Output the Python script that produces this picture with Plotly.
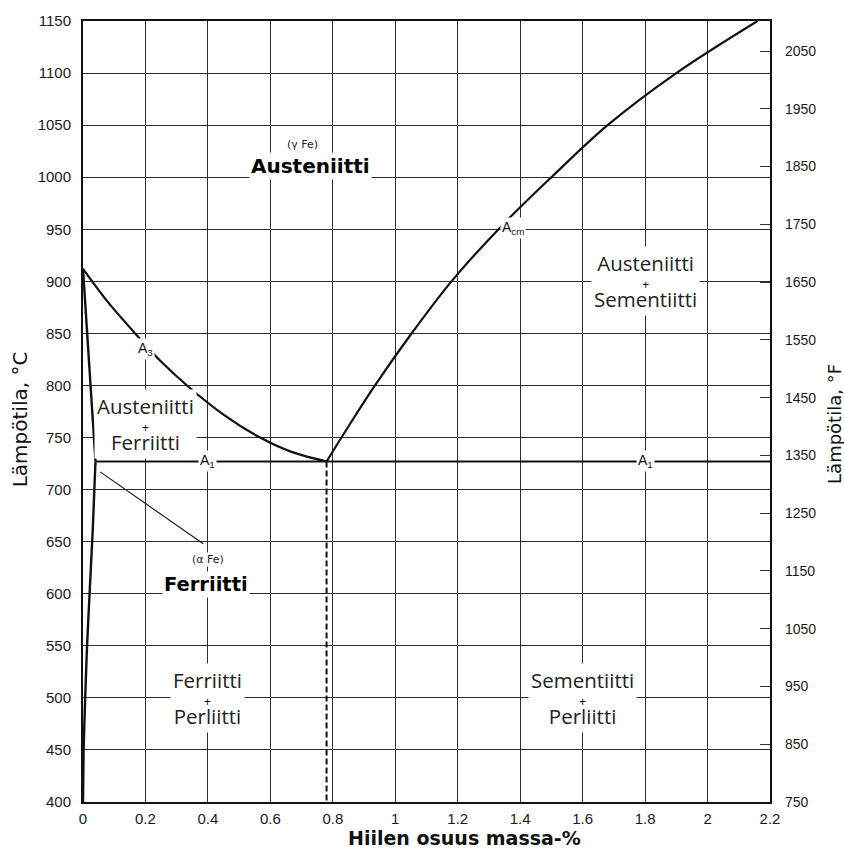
import plotly.graph_objects as go

# ---------------- data ----------------
temp_ticks_c = list(range(400, 1151, 50))
temp_ticks_f = list(range(750, 2051, 100))
carbon_ticks = [0, 0.2, 0.4, 0.6, 0.8, 1.0, 1.2, 1.4, 1.6, 1.8, 2.0, 2.2]
carbon_tick_labels = ["0", "0.2", "0.4", "0.6", "0.8", "1", "1.2", "1.4", "1.6", "1.8", "2", "2.2"]

# A3 line (austenite / ferrite+austenite)
a3_carbon = [0.0, 0.08, 0.167, 0.25, 0.333, 0.45, 0.567, 0.67, 0.78]
a3_temp = [912, 880, 850, 823, 800, 772, 750, 736, 727]

# Acm line (austenite / austenite+cementite)
acm_carbon = [0.78, 0.855, 0.935, 1.045, 1.18, 1.34, 1.5, 1.68, 1.9, 2.16]
acm_temp = [727, 763, 800, 847, 900, 953, 1000, 1050, 1100, 1150]

# ferrite boundary (upper, above A1)
fer_up_carbon = [0.0, 0.04]
fer_up_temp = [912, 727]
# ferrite solvus (below A1)
fer_lo_carbon = [0.04, 0.031, 0.021, 0.013, 0.007, 0.002, 0.0]
fer_lo_temp = [727, 660, 600, 550, 500, 450, 400]

# A1 eutectoid line
a1_carbon = [0.04, 2.2]
a1_temp = [727, 727]

# eutectoid composition (dashed)
eut_carbon = [0.78, 0.78]
eut_temp = [727, 400]

# leader line to ferrite label
lead_carbon = [0.055, 0.385]
lead_temp = [717, 648]


def c2f(c):
    return c * 9 / 5 + 32


fig = go.Figure()

black = "#111111"

fig.add_trace(go.Scatter(x=a3_carbon, y=a3_temp, mode="lines",
                         line=dict(color=black, width=2.2, shape="spline", smoothing=0.8),
                         hoverinfo="skip", showlegend=False))
fig.add_trace(go.Scatter(x=acm_carbon, y=acm_temp, mode="lines",
                         line=dict(color=black, width=2.2, shape="spline", smoothing=1.0),
                         hoverinfo="skip", showlegend=False))
fig.add_trace(go.Scatter(x=fer_up_carbon, y=fer_up_temp, mode="lines",
                         line=dict(color=black, width=2.4),
                         hoverinfo="skip", showlegend=False))
fig.add_trace(go.Scatter(x=fer_lo_carbon, y=fer_lo_temp, mode="lines",
                         line=dict(color=black, width=2.4, shape="spline", smoothing=0.6),
                         hoverinfo="skip", showlegend=False))
fig.add_trace(go.Scatter(x=a1_carbon, y=a1_temp, mode="lines",
                         line=dict(color=black, width=2.0),
                         hoverinfo="skip", showlegend=False))
fig.add_trace(go.Scatter(x=eut_carbon, y=eut_temp, mode="lines",
                         line=dict(color=black, width=2.0, dash="6px,3px"),
                         hoverinfo="skip", showlegend=False))
fig.add_trace(go.Scatter(x=lead_carbon, y=lead_temp, mode="lines",
                         line=dict(color=black, width=1.1),
                         hoverinfo="skip", showlegend=False))
# invisible trace on the Fahrenheit axis
fig.add_trace(go.Scatter(x=[0, 0], y=[c2f(400), c2f(1150)], yaxis="y2", mode="lines",
                         line=dict(color="rgba(0,0,0,0)", width=0),
                         hoverinfo="skip", showlegend=False))

tick_font = dict(family="Liberation Sans, Arial, sans-serif", size=15, color="#1a1a1a")
grid_col = "#2e2e2e"

fig.update_layout(
    width=844, height=850,
    margin=dict(l=83, r=74, t=17, b=48),
    paper_bgcolor="white", plot_bgcolor="white",
    showlegend=False,
    xaxis=dict(range=[0, 2.2], tickvals=carbon_ticks, ticktext=carbon_tick_labels,
               showgrid=True, gridcolor=grid_col, gridwidth=1.3,
               zeroline=False, showline=True, linecolor=black, linewidth=2, mirror=True,
               ticks="", tickfont=tick_font, ticklabelstandoff=2),
    yaxis=dict(range=[400, 1150], tickvals=temp_ticks_c,
               showgrid=True, gridcolor=grid_col, gridwidth=1.3,
               zeroline=False, showline=True, linecolor=black, linewidth=2, mirror=True,
               ticks="", tickfont=tick_font, ticklabelstandoff=7),
    yaxis2=dict(range=[750, c2f(1150)], tickvals=temp_ticks_f, overlaying="y", side="right",
                showgrid=False, zeroline=False, showline=False,
                ticks="inside", ticklen=10, tickcolor="#333333", tickwidth=1.2,
                tickfont=dict(family="Liberation Sans, Arial, sans-serif", size=14, color="#1a1a1a"),
                ticklabelstandoff=14),
)

ann = []
region_font = dict(family="Open Sans, Noto Sans, sans-serif", size=14, color="#222222")


def region(x, y, top, bottom):
    ann.append(dict(
        x=x, y=y, xref="x", yref="y", showarrow=False,
        xanchor="center", yanchor="middle",
        text=(f"<span style='font-size:20.5px'>{top}</span><br>"
              f"<span style='font-size:12px;color:#000000'>+</span><br>"
              f"<span style='font-size:20.5px'>{bottom}</span>"),
        font=region_font, bgcolor="white", borderpad=2, align="center"))


region(0.2, 763, "Austeniitti", "Ferriitti")
region(1.8, 900, "Austeniitti", "Sementiitti")
region(0.4, 500, "Ferriitti", "Perliitti")
region(1.6, 500, "Sementiitti", "Perliitti")

bold_font = dict(family="DejaVu Sans, sans-serif", size=20, color="#000000")
small_font = dict(family="DejaVu Sans, sans-serif", size=11, color="#222222")

ann.append(dict(x=0.727, y=1011, xref="x", yref="y", showarrow=False,
                xanchor="center", yanchor="middle",
                text="<b>Austeniitti</b>", font=bold_font, bgcolor="white", borderpad=1))
ann.append(dict(x=0.704, y=1031, xref="x", yref="y", showarrow=False,
                xanchor="center", yanchor="middle",
                text="(γ Fe)", font=small_font, bgcolor="white", borderpad=0))
ann.append(dict(x=0.394, y=609, xref="x", yref="y", showarrow=False,
                xanchor="center", yanchor="middle",
                text="<b>Ferriitti</b>", font=dict(family="DejaVu Sans, sans-serif", size=19.5, color="#000000"),
                bgcolor="white", borderpad=1))
ann.append(dict(x=0.4, y=633, xref="x", yref="y", showarrow=False,
                xanchor="center", yanchor="middle",
                text="(α Fe)", font=small_font, bgcolor="white", borderpad=0))

a_font = dict(family="Liberation Sans, Arial, sans-serif", size=14, color="#111111")
for ax, ay, txt in [(0.2, 835, "A<sub>3</sub>"), (0.4, 727, "A<sub>1</sub>"),
                    (1.8, 727, "A<sub>1</sub>"), (1.376, 951, "A<sub>cm</sub>")]:
    ann.append(dict(x=ax, y=ay, xref="x", yref="y", showarrow=False,
                    xanchor="center", yanchor="middle",
                    text=txt, font=a_font, bgcolor="white", borderpad=1))

# axis titles
ann.append(dict(x=-0.0917, y=0.49, xref="paper", yref="paper", showarrow=False,
                xanchor="center", yanchor="middle",
                text="Lämpötila, °C", textangle=-90,
                font=dict(family="DejaVu Sans, sans-serif", size=20, color="#111111")))
ann.append(dict(x=1.0945, y=0.484, xref="paper", yref="paper", showarrow=False,
                xanchor="center", yanchor="middle",
                text="Lämpötila, °F", textangle=-90,
                font=dict(family="DejaVu Sans, sans-serif", size=18, color="#111111")))
ann.append(dict(x=0.556, y=-0.0459, xref="paper", yref="paper", showarrow=False,
                xanchor="center", yanchor="middle",
                text="<b>Hiilen osuus massa-%</b>",
                font=dict(family="DejaVu Sans, sans-serif", size=19, color="#111111")))

fig.update_layout(annotations=ann)

fig.write_html("out.html",
               config={"displayModeBar": False},
               post_script="document.body.style.margin='0';document.body.style.overflow='hidden';")
